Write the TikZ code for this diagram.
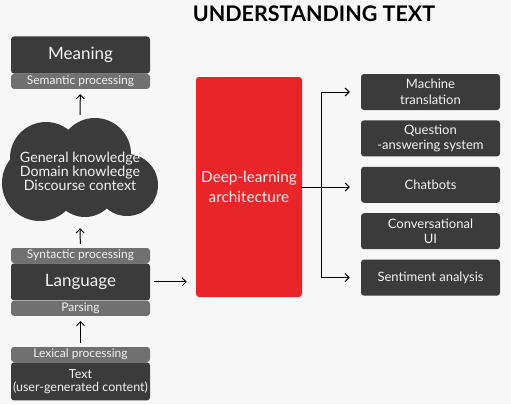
\documentclass[tikz,border=0pt]{standalone}
\usepackage{fontspec}
\setmainfont{Lato}
\usetikzlibrary{arrows.meta,positioning}
\definecolor{bgpage}{HTML}{F7F7F7}
\definecolor{boxdark}{HTML}{3B3B3B}
\definecolor{boxgray}{HTML}{707070}
\definecolor{deepred}{HTML}{E8262A}
\definecolor{boxtext}{HTML}{F2F2F2}
\tikzset{
	box/.style={
			fill=boxdark, rounded corners=3pt, text=boxtext, align=center,
			inner sep=0pt, minimum width=139, minimum height=36
		}
}

\begin{document}
\begin{tikzpicture}[x=1pt, y=-1pt,
every edge/.style = {draw, -{Straight Barb[length=4pt, width=8pt]}, line width=1pt, black,
                     shorten <=4pt, shorten >=5pt},
         S/.style = {box, fill=boxgray, minimum height=15,
                     font=\fontsize{12}{13}\selectfont},
         L/.style = {box, minimum height=37,
                     font=\fontsize{17}{19}\selectfont},
         R/.style = {box, font=\fontsize{13}{15.5}\selectfont}
                    ]
\fill[bgpage] (0,0) rectangle (511,404);

\node[font=\bfseries\fontsize{21.5}{23}\selectfont] (title) at (314,14) {UNDERSTANDING TEXT};

% left column
\node[L] (mean) at (80.5,55) {Meaning};
\node[S, below=0pt of mean] (sem) {Semantic processing};

\foreach \c/\r in {(46,158)/36, (95,154)/36, (40,183)/38, (85,185)/32, (127,185)/31}
  \fill[boxdark] \c circle (\r);
\node[text=boxtext, align=center, inner sep=0pt, minimum height=104,
      font=\fontsize{14.2}{11.8}\selectfont] (know) at (80,171)
      {General knowledge\\ Domain knowledge\\ Discourse context};

\node[S] (syn) at (80.5,255.5) {Syntactic processing};
\node[L, below=0pt of syn] (lang) {Language};
\node[S, below=0pt of lang] (pars) {Parsing};

\node[S] (lex) at (80.5,354.5) {Lexical processing};
\node[box, below=0pt of lex, minimum height=38,
      font=\fontsize{12.5}{13}\selectfont] (txt) {Text\\ (user-generated content)};

% middle
\node[box, fill=deepred, minimum width=106, minimum height=220,
      font=\fontsize{15.3}{20}\selectfont] (dl) at (249,187)
      {Deep-learning\\ architecture};

% right column
\node[R] (mt) at (430.5,92) {Machine\\ translation};
\node[R, below=10pt of mt] (qa) {Question\\ -answering system};
\node[R, below=10pt of qa] (chat) {Chatbots};
\node[R, below=10pt of chat] (cui) {Conversational\\ UI};
\node[R, below=10pt of cui] (sent) {Sentiment analysis};

\draw   (txt.north |- lex.north) edge (pars)
        (syn) edge (know.south)
        (know.north) edge (sem)
        (lang.east) edge [shorten >=9pt] (lang.east -| dl.west);

\draw[line width=1pt] (dl.east) -- ++(19,0) coordinate (fork);
\draw[line width=1pt] (fork |- mt.west) -- (fork |- sent.west);
\draw   (fork |- mt.west) edge [shorten <=0pt, shorten >=11pt] (mt.west)
        (fork) edge [shorten <=0pt, shorten >=11pt] (fork -| chat.west)
        (fork |- sent.west) edge [shorten <=0pt, shorten >=11pt] (sent.west);
\end{tikzpicture}
\end{document}
